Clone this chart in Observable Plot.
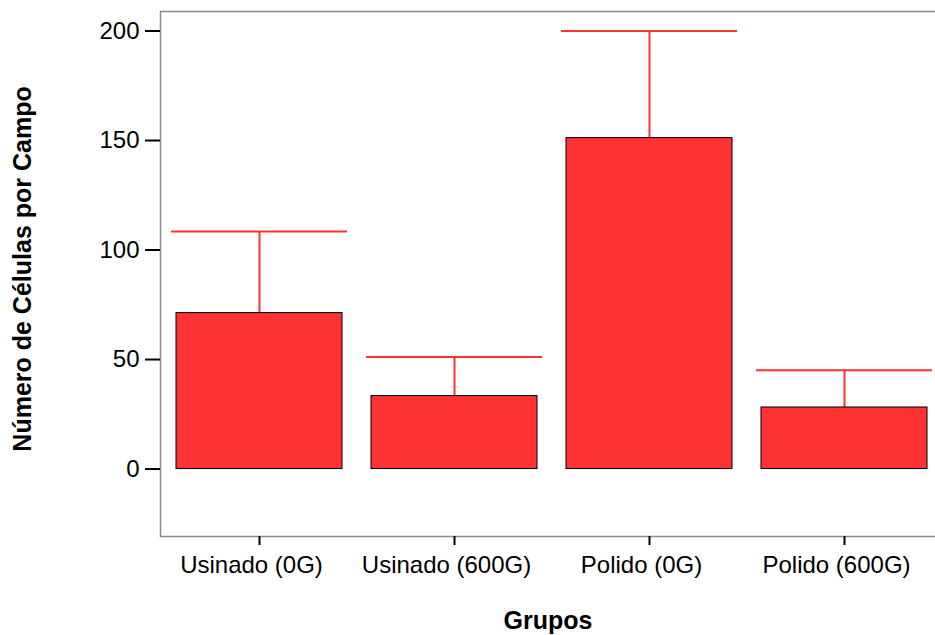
<!DOCTYPE html>
<html>
<head>
<meta charset="utf-8">
<script src="https://cdn.jsdelivr.net/npm/d3@7"></script>
<script src="https://cdn.jsdelivr.net/npm/@observablehq/plot@0.6"></script>
<style>
  html, body { margin: 0; padding: 0; background: #fff; overflow: hidden; }
</style>
</head>
<body>
<div id="chart"></div>
<script>
const groups = ["Usinado (0G)", "Usinado (600G)", "Polido (0G)", "Polido (600G)"];
const means = [71.2, 33.3, 151.1, 28.1];
const upper = [108.4, 51.1, 200.0, 45.1];
const yTicks = [0, 50, 100, 150, 200];
const xTitle = "Grupos";
const yTitle = "Número de Células por Campo";

const data = groups.map((g, i) => ({group: g, mean: means[i], upper: upper[i]}));
const red = "#ff3333";

const chart = Plot.plot({
  width: 943,
  height: 635,
  marginLeft: 160,
  marginRight: 0,
  marginTop: 11,
  marginBottom: 99,
  style: {fontFamily: "'Liberation Sans', Arial, Helvetica, sans-serif", fontSize: "24px", background: "#fff", maxWidth: "none"},
  x: {domain: groups, paddingInner: 0.147, paddingOuter: 0.0735, axis: null},
  y: {domain: [-30.8, 208.9], axis: null},
  marks: [
    Plot.frame({stroke: "#8a8a8a", strokeWidth: 1.5}),
    Plot.ruleX(data, {x: "group", y1: "mean", y2: "upper", stroke: red, strokeWidth: 2}),
    Plot.tickY(data, {x: "group", y: "upper", stroke: red, strokeWidth: 2, insetLeft: -5, insetRight: -5}),
    Plot.barY(data, {x: "group", y: "mean", fill: red, stroke: "#000", strokeWidth: 1}),
    Plot.axisY(yTicks, {tickSize: 15, tickPadding: 6, strokeWidth: 2, stroke: "#000", fill: "#000", label: null, fontSize: 24}),
    Plot.axisX({tickSize: 9, tickPadding: 10, strokeWidth: 2, stroke: "#000", label: null, text: null}),
    Plot.axisX({tickSize: 0, tickPadding: 19, dx: -8, fill: "#000", label: null, fontSize: 24}),
    Plot.text([xTitle], {frameAnchor: "bottom", lineAnchor: "middle", textAnchor: "middle", dy: 84, dx: -4, fontWeight: "bold", fontSize: 25, fill: "#000"}),
    Plot.text([yTitle], {frameAnchor: "left", lineAnchor: "middle", textAnchor: "middle", dx: -138, dy: -5, rotate: -90, fontWeight: "bold", fontSize: 25, fill: "#000"})
  ]
});
document.getElementById("chart").appendChild(chart);
</script>
</body>
</html>
